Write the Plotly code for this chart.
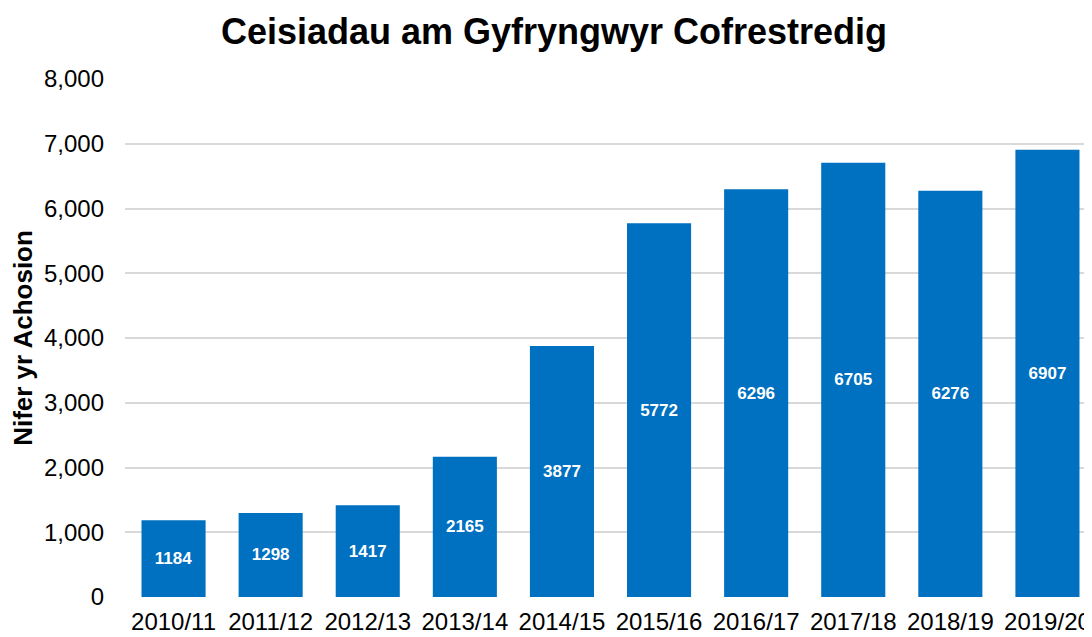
import plotly.graph_objects as go

categories = ["2010/11", "2011/12", "2012/13", "2013/14", "2014/15",
              "2015/16", "2016/17", "2017/18", "2018/19", "2019/20"]
values = [1184, 1298, 1417, 2165, 3877, 5772, 6296, 6705, 6276, 6907]
y_ticks = [0, 1000, 2000, 3000, 4000, 5000, 6000, 7000, 8000]
y_tick_labels = ["0", "1,000", "2,000", "3,000", "4,000", "5,000", "6,000", "7,000", "8,000"]

fig = go.Figure(go.Bar(
    x=categories, y=values,
    marker=dict(color="#0070C0", line=dict(width=0)),
    text=[str(v) for v in values],
    textposition="inside", insidetextanchor="middle",
    textangle=0, constraintext="none",
    textfont=dict(family="Liberation Sans, Arial, sans-serif", size=17, color="white", weight="bold"),
))

fig.update_layout(
    width=1092, height=637,
    margin=dict(l=117, r=4, t=71, b=48),
    paper_bgcolor="white", plot_bgcolor="white",
    bargap=0.34,
    showlegend=False,
    font=dict(family="Liberation Sans, Arial, sans-serif", color="#000000"),
    title=dict(text="<b>Ceisiadau am Gyfryngwyr Cofrestredig</b>",
               x=0.5, xanchor="center", y=0.964, yanchor="middle",
               font=dict(size=36, color="#000000")),
)
fig.update_xaxes(showline=False, ticks="", tickfont=dict(size=24, color="#000000"),
                 showgrid=False, ticklabelstandoff=8)
fig.update_yaxes(range=[0, 8000], tickvals=y_ticks, ticktext=y_tick_labels,
                 showgrid=True, gridcolor="#D9D9D9", gridwidth=1.5, zeroline=False,
                 tickfont=dict(size=24, color="#000000"), ticks="", ticklabelstandoff=20,
                 title=dict(text="<b>Nifer yr Achosion</b>", font=dict(size=26, color="#000000"), standoff=12))

fig.write_html("out.html")
